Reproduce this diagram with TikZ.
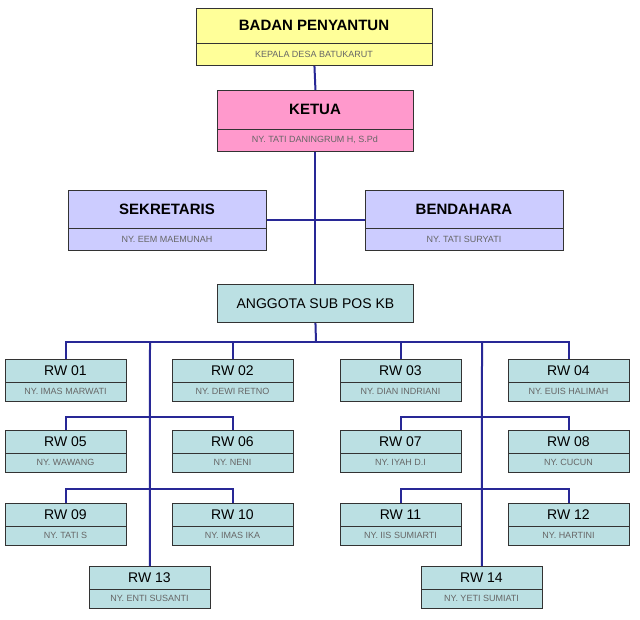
\documentclass[tikz,border=0pt]{standalone}
\usepackage{fontspec}
\setmainfont{Liberation Sans}
\definecolor{ln}{RGB}{40,40,150}
\definecolor{yel}{RGB}{255,255,153}
\definecolor{pink}{RGB}{255,153,204}
\definecolor{lav}{RGB}{204,204,255}
\definecolor{teal}{RGB}{187,224,227}
\tikzset{boxst/.style={draw=black!80,line width=0.9pt,anchor=north west,inner sep=0pt},
 conn/.style={draw=ln,line width=2pt},
 subt/.style={text=black!60,font=\fontsize{9}{10}\selectfont}}
% #1 name #2 x1 #3 y1 #4 x2 #5 y2 #6 ysplit #7 colour #8 title(with font) #9 sub
\newcommand\bx[9]{%
 \node[boxst,fill=#7,minimum width=#4pt-#2pt,minimum height=#5pt-#3pt] (#1) at (#2,#3) {};
 \draw[black!80,line width=0.8pt] (#2,#6) -- (#4,#6);
 \node at ({(#2+#4)/2},{(#3+#6)/2}) {#8};
 \node[subt] at ({(#2+#4)/2},{(#6+#5)/2}) {#9};}
\newcommand\rw[6]{\bx{#1}{#2}{#3}{#2+121}{#3+42}{#3+23}{teal}{\fontsize{14}{15}\selectfont #4}{#5}}
\begin{document}
\begin{tikzpicture}[x=1pt,y=-1pt]
\useasboundingbox[fill=white] (0,0) rectangle (640,620);
% connectors first
\coordinate (b1) at (316,342);
\coordinate (lt) at (150,342);
\coordinate (rt) at (482,342);
\bx{badan}{196}{8}{432}{65}{43}{yel}{\fontsize{15}{16}\selectfont\bfseries BADAN PENYANTUN}{KEPALA DESA BATUKARUT}
\bx{ketua}{217}{90}{413}{151}{129}{pink}{\fontsize{15}{16}\selectfont\bfseries KETUA}{NY. TATI DANINGRUM H, S.Pd}
\bx{sek}{68}{190}{266}{250}{228}{lav}{\fontsize{15}{16}\selectfont\bfseries SEKRETARIS}{NY. EEM MAEMUNAH}
\bx{bend}{365}{190}{563}{250}{228}{lav}{\fontsize{15}{16}\selectfont\bfseries BENDAHARA}{NY. TATI SURYATI}
\node[boxst,fill=teal,minimum width=196pt,minimum height=38pt,font=\fontsize{14}{15}\selectfont] (angg) at (217,284) {ANGGOTA SUB POS KB};
\rw{rw01}{5}{359}{RW 01}{NY. IMAS MARWATI}{}
\rw{rw02}{172}{359}{RW 02}{NY. DEWI RETNO}{}
\rw{rw03}{340}{359}{RW 03}{NY. DIAN INDRIANI}{}
\rw{rw04}{508}{359}{RW 04}{NY. EUIS HALIMAH}{}
\rw{rw05}{5}{430}{RW 05}{NY. WAWANG}{}
\rw{rw06}{172}{430}{RW 06}{NY. NENI}{}
\rw{rw07}{340}{430}{RW 07}{NY. IYAH D.I}{}
\rw{rw08}{508}{430}{RW 08}{NY. CUCUN}{}
\rw{rw09}{5}{503}{RW 09}{NY. TATI S}{}
\rw{rw10}{172}{503}{RW 10}{NY. IMAS IKA}{}
\rw{rw11}{340}{503}{RW 11}{NY. IIS SUMIARTI}{}
\rw{rw12}{508}{503}{RW 12}{NY. HARTINI}{}
\rw{rw13}{89}{566}{RW 13}{NY. ENTI SUSANTI}{}
\rw{rw14}{421}{566}{RW 14}{NY. YETI SUMIATI}{}
\draw[conn] (badan.south) -- (ketua.north);
\draw[conn] (ketua.south) -- (angg.north);
\draw[conn] (sek.east) -- (bend.west);
\draw[conn] (angg.south) -- (b1);
\draw[conn] (rw01.north) -- ++(0,-17) -| (rw04.north);
\draw[conn] (rw02.north) -- (rw02.north |- b1);
\draw[conn] (rw03.north) -- (rw03.north |- b1);
\draw[conn] (lt) -- (rw13.north);
\draw[conn] (rt) -- (rw14.north);
\draw[conn] (rw05.north) -- ++(0,-13) -| (rw06.north);
\draw[conn] (rw07.north) -- ++(0,-13) -| (rw08.north);
\draw[conn] (rw09.north) -- ++(0,-14) -| (rw10.north);
\draw[conn] (rw11.north) -- ++(0,-14) -| (rw12.north);
\end{tikzpicture}
\end{document}
